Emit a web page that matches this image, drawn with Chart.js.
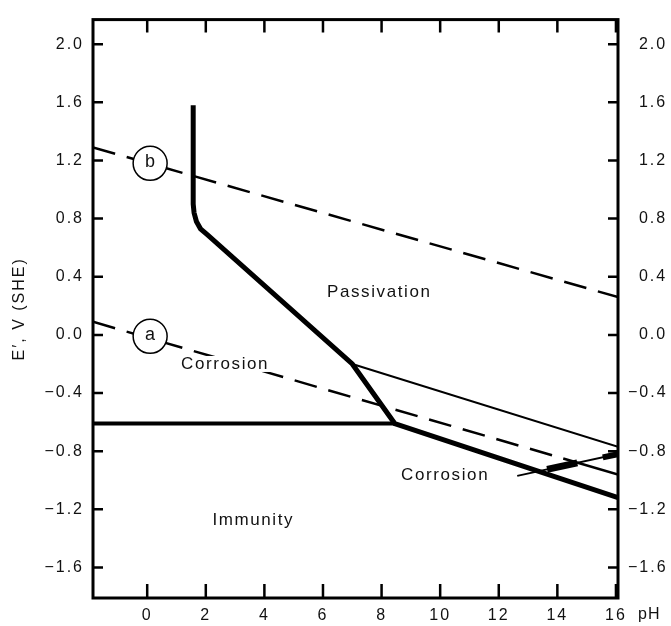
<!DOCTYPE html>
<html>
<head>
<meta charset="utf-8">
<script src="https://cdn.jsdelivr.net/npm/chart.js@4.4.1/dist/chart.umd.min.js"></script>
<style>
  html, body { margin: 0; padding: 0; background: #fff; }
  canvas { display: block; }
</style>
</head>
<body>
<canvas id="myChart" width="671" height="626"></canvas>
<script>
// axis ticks
let pHTicks = [0, 2, 4, 6, 8, 10, 12, 14, 16];
let eTicks = [-1.6, -1.2, -0.8, -0.4, 0, 0.4, 0.8, 1.2, 1.6, 2.0];

// thick boundary passivation / corrosion
let ironPH = [1.57, 1.57, 1.6, 1.68, 1.82, 2.05, 7.0, 8.45, 16.07];
let ironE = [1.58, 0.90, 0.84, 0.78, 0.73, 0.69, -0.2, -0.61, -1.12];
// immunity boundary
let immunityPH = [-1.85, 8.45];
let immunityE = [-0.61, -0.61];
// thin boundary
let thinPH = [7.0, 16.07];
let thinE = [-0.2, -0.77];
// water lines a and b (dashed)
let lineAPH = [-1.85, 14.2, 16.07];
let lineAE = [0.09, -0.85, -0.96];
let lineBPH = [-1.85, 16.07];
let lineBE = [1.29, 0.26];
// pointer to the narrow corrosion zone
let pointerPH = [12.63, 16.07];
let pointerE = [-0.97, -0.82];
let zone1PH = [13.65, 14.68];
let zone1E = [-0.925, -0.88];
let zone2PH = [15.55, 16.07];
let zone2E = [-0.843, -0.82];

// circled labels
let circleNames = ['a', 'b'];
let circlePH = [0.1, 0.1];
let circleE = [-0.01, 1.18];

// region names
let regionNames = ['Passivation', 'Corrosion', 'Corrosion', 'Immunity'];
let regionPH = [7.92, 2.66, 10.17, 3.62];
let regionE = [0.295, -0.2, -0.964, -1.275];

const FONT = '"Liberation Sans", Arial, sans-serif';
const INK = '#111';
const DASH = [23, 12];

function toPoints(xs, ys) {
    return xs.map((x, i) => ({ x: x, y: ys[i] }));
}

function line(xs, ys, width, dash) {
    return {
        data: toPoints(xs, ys),
        showLine: true,
        borderColor: '#000',
        borderWidth: width,
        borderDash: dash || [],
        pointRadius: 0,
        fill: false,
        order: 1
    };
}

function fmt(v) {
    return v.toFixed(1).replace('-', '\u2212');
}

let lineA = line(lineAPH, lineAE, 2.5, DASH);
lineA.segment = { borderDash: c => c.p0.parsed.x >= 14.2 ? [] : DASH };

let labelPlugin = {
    id: 'labels',
    beforeDraw(chart) {
        chart.ctx.letterSpacing = '2px';
    },
    afterDatasetsDraw(chart) {
        let ctx = chart.ctx;
        let x = chart.scales.x, y = chart.scales.y;
        ctx.save();
        ctx.textAlign = 'center';
        ctx.textBaseline = 'middle';
        ctx.font = '17px ' + FONT;
        ctx.letterSpacing = '1.6px';
        regionNames.forEach((name, i) => {
            let px = x.getPixelForValue(regionPH[i]);
            let py = y.getPixelForValue(regionE[i]);
            let w = ctx.measureText(name).width;
            // labels sit on a white patch, so lines break around them
            ctx.fillStyle = '#fff';
            ctx.fillRect(px - w / 2 - 2, py - 8, w + 4, 16);
            ctx.fillStyle = INK;
            ctx.fillText(name, px, py);
        });
        ctx.font = '18px ' + FONT;
        ctx.letterSpacing = '0px';
        circleNames.forEach((name, i) => {
            ctx.fillText(name, x.getPixelForValue(circlePH[i]), y.getPixelForValue(circleE[i]) - 1);
        });
        ctx.restore();
    },
    afterDraw(chart) {
        let ctx = chart.ctx;
        let a = chart.chartArea;
        let x = chart.scales.x, y = chart.scales.y;
        ctx.save();
        ctx.strokeStyle = '#000';
        ctx.lineWidth = 3;
        ctx.strokeRect(a.left, a.top, a.right - a.left, a.bottom - a.top);
        ctx.lineWidth = 2.5;
        ctx.beginPath();
        pHTicks.forEach(v => {
            let px = x.getPixelForValue(v);
            ctx.moveTo(px, a.bottom);
            ctx.lineTo(px, a.bottom - 14);
            ctx.moveTo(px, a.top);
            ctx.lineTo(px, a.top + 13);
        });
        eTicks.forEach(v => {
            let py = y.getPixelForValue(v);
            ctx.moveTo(a.left, py);
            ctx.lineTo(a.left + 10, py);
            ctx.moveTo(a.right, py);
            ctx.lineTo(a.right - 10, py);
        });
        ctx.stroke();
        ctx.fillStyle = INK;
        ctx.font = '16px ' + FONT;
        ctx.letterSpacing = '1px';
        ctx.textBaseline = 'middle';
        ctx.fillText('pH', a.right + 20, a.bottom + 17);
        ctx.restore();
    }
};

let tickFont = { family: FONT, size: 16 };
let noGrid = { display: false, drawTicks: false };

let ctx = document.getElementById('myChart').getContext('2d');
let myChart = new Chart(ctx, {
    type: 'scatter',
    data: {
        datasets: [
            {
                data: toPoints(circlePH, circleE),
                pointRadius: 17,
                pointBackgroundColor: '#fff',
                pointBorderColor: '#000',
                pointBorderWidth: 1.5,
                showLine: false,
                order: 0
            },
            line(ironPH, ironE, 5),
            line(immunityPH, immunityE, 4),
            line(thinPH, thinE, 2),
            lineA,
            line(lineBPH, lineBE, 2.5, DASH),
            line(pointerPH, pointerE, 2),
            line(zone1PH, zone1E, 7),
            line(zone2PH, zone2E, 6)
        ]
    },
    options: {
        responsive: false,
        animation: false,
        events: [],
        layout: { padding: { top: 10, left: 0, right: 0, bottom: 0 } },
        plugins: {
            legend: { display: false },
            tooltip: { enabled: false }
        },
        scales: {
            x: {
                type: 'linear',
                position: 'bottom',
                min: -1.85,
                max: 16.07,
                grid: noGrid,
                border: { display: false },
                ticks: { padding: 8, autoSkip: false, maxRotation: 0, color: INK, font: tickFont },
                afterBuildTicks: s => { s.ticks = pHTicks.map(v => ({ value: v })); },
                afterFit: s => { s.height = 28; }
            },
            y: {
                type: 'linear',
                position: 'left',
                min: -1.81,
                max: 2.169,
                grid: noGrid,
                border: { display: false },
                title: {
                    display: true,
                    text: 'E\u2032, V (SHE)',
                    color: INK,
                    font: { family: FONT, size: 16 },
                    padding: { top: 10, bottom: 0 }
                },
                ticks: { padding: 9, autoSkip: false, color: INK, font: tickFont, callback: v => fmt(v) },
                afterBuildTicks: s => { s.ticks = eTicks.map(v => ({ value: v })); },
                afterFit: s => { s.width = 93; }
            },
            y2: {
                type: 'linear',
                position: 'right',
                min: -1.81,
                max: 2.169,
                grid: noGrid,
                border: { display: false },
                ticks: {
                    padding: 10, autoSkip: false, color: INK, font: tickFont,
                    callback: v => (v < 0 ? '' : '\u2007') + fmt(v)
                },
                afterBuildTicks: s => { s.ticks = eTicks.map(v => ({ value: v })); },
                afterFit: s => { s.width = 53; }
            }
        }
    },
    plugins: [labelPlugin]
});
</script>
</body>
</html>
